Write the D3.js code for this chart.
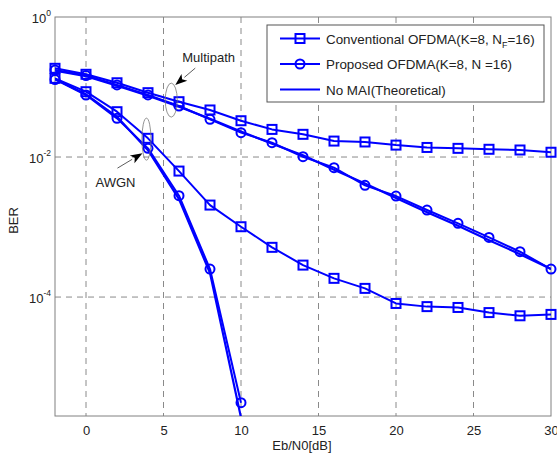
<!DOCTYPE html>
<html>
<head>
<meta charset="utf-8">
<script src="https://cdn.jsdelivr.net/npm/d3@7"></script>
<style>
  body { margin: 0; background: #fff; }
  svg text { font-family: "Liberation Sans", Arial, sans-serif; fill: #222; }
</style>
</head>
<body>
<svg class="chart" width="557" height="456"></svg>
<script>
// Eb/N0 points
var snr = [-2, 0, 2, 4, 6, 8, 10, 12, 14, 16, 18, 20, 22, 24, 26, 28, 30];
var snrAwgn = [-2, 0, 2, 4, 6, 8, 10];

// multipath
var mpConv = [0.185, 0.152, 0.115, 0.083, 0.0617, 0.047, 0.033, 0.0248, 0.0211, 0.0169, 0.0164, 0.0148, 0.0137, 0.0133, 0.0129, 0.0126, 0.0117];
var mpProp = [0.175, 0.146, 0.107, 0.077, 0.0535, 0.0345, 0.0223, 0.016, 0.0101, 0.00705, 0.00394, 0.00277, 0.00175, 0.00113, 0.00071, 0.000444, 0.000251];
var mpTheory = [0.172, 0.143, 0.104, 0.075, 0.0525, 0.0352, 0.0232, 0.0155, 0.0106, 0.0066, 0.0042, 0.0026, 0.00163, 0.00104, 0.00065, 0.00041, 0.000251];

// AWGN
var awConv = [0.133, 0.0857, 0.0444, 0.0185, 0.0063, 0.00206, 0.00101, 0.000513, 0.000286, 0.000185, 0.000133, 8.1e-5, 7.3e-5, 7.1e-5, 6.0e-5, 5.4e-5, 5.65e-5];
var awProp = [0.128, 0.0769, 0.0357, 0.0133, 0.0028, 0.000251, 3.1e-6];
var awTheory = [0.13, 0.0786, 0.0375, 0.0125, 0.0025, 0.00022, 1.9e-6];

var xTicks = [0, 5, 10, 15, 20, 25, 30];
var yTicks = [1, 1e-2, 1e-4];
var yTickExp = ["0", "-2", "-4"];

var svg = d3.select(".chart"),
    margin = { top: 17, right: 6, bottom: 40, left: 55 },
    width = +svg.attr("width") - margin.left - margin.right,
    height = +svg.attr("height") - margin.top - margin.bottom;

var x = d3.scaleLinear().domain([-2, 30]).range([0, width]),
    y = d3.scaleLog().domain([2e-6, 1]).range([height, 0]);

var blue = "#0000ff";

var g = svg.append("g")
    .attr("transform", "translate(" + margin.left + "," + margin.top + ")");

svg.append("defs").append("clipPath").attr("id", "clip")
    .append("rect").attr("width", width).attr("height", height);

// grid
g.append("g").selectAll("line")
    .data(xTicks.filter(function(d) { return d < 30; }))
    .enter().append("line")
    .attr("x1", function(d) { return x(d); })
    .attr("x2", function(d) { return x(d); })
    .attr("y1", 0).attr("y2", height)
    .attr("stroke", "#8a8a8a").attr("stroke-width", 1)
    .attr("stroke-dasharray", "6,5");

g.append("g").selectAll("line")
    .data(yTicks.filter(function(d) { return d < 1; }))
    .enter().append("line")
    .attr("x1", 0).attr("x2", width)
    .attr("y1", function(d) { return y(d); })
    .attr("y2", function(d) { return y(d); })
    .attr("stroke", "#8a8a8a").attr("stroke-width", 1)
    .attr("stroke-dasharray", "6,5");

// box
g.append("rect")
    .attr("width", width).attr("height", height)
    .attr("fill", "none").attr("stroke", "#808080").attr("stroke-width", 1);

// x axis
var xAxis = g.append("g")
    .attr("transform", "translate(0," + height + ")")
    .call(d3.axisBottom(x).tickValues(xTicks).tickSize(0).tickPadding(10));
xAxis.select(".domain").remove();
xAxis.selectAll("text").attr("font-size", "13px").attr("fill", "#222")
    .attr("font-family", "Liberation Sans, Arial, sans-serif");

g.append("text")
    .attr("x", width / 2 - 1)
    .attr("y", height + 34)
    .attr("text-anchor", "middle")
    .attr("font-size", "13px")
    .text("Eb/N0[dB]");

// y axis (10^n labels)
var yl = g.append("g").selectAll("text")
    .data(yTicks)
    .enter().append("text")
    .attr("x", -4)
    .attr("y", function(d) { return y(d) + 6; })
    .attr("text-anchor", "end")
    .attr("font-size", "13px");
yl.append("tspan").text("10");
yl.append("tspan")
    .attr("dy", -7)
    .attr("font-size", "8.5px")
    .text(function(d, i) { return yTickExp[i]; });

svg.append("text")
    .attr("transform", "translate(18," + (margin.top + height / 2 + 4) + ") rotate(-90)")
    .attr("text-anchor", "middle")
    .attr("font-size", "13px")
    .text("BER");

// lines
var line = d3.line()
    .x(function(d) { return x(d[0]); })
    .y(function(d) { return y(d[1]); });

function pairs(xs, ys) {
    return xs.map(function(v, i) { return [v, ys[i]]; });
}

var series = [
    { pts: pairs(snr, mpTheory), marker: null, w: 2.2 },
    { pts: pairs(snrAwgn, awTheory), marker: null, w: 2.2 },
    { pts: pairs(snr, mpConv), marker: "square", w: 2 },
    { pts: pairs(snr, mpProp), marker: "circle", w: 2 },
    { pts: pairs(snr, awConv), marker: "square", w: 2 },
    { pts: pairs(snrAwgn, awProp), marker: "circle", w: 2 }
];

var lines = g.append("g").attr("clip-path", "url(#clip)");

series.forEach(function(s) {
    lines.append("path")
        .datum(s.pts)
        .attr("d", line)
        .attr("fill", "none")
        .attr("stroke", blue)
        .attr("stroke-width", s.w)
        .attr("stroke-linejoin", "round");

    if (s.marker === "square") {
        g.append("g").selectAll("rect")
            .data(s.pts)
            .enter().append("rect")
            .attr("x", function(d) { return x(d[0]) - 4.5; })
            .attr("y", function(d) { return y(d[1]) - 4.5; })
            .attr("width", 9).attr("height", 9)
            .attr("fill", "none").attr("stroke", blue).attr("stroke-width", 2);
    } else if (s.marker === "circle") {
        g.append("g").selectAll("circle")
            .data(s.pts)
            .enter().append("circle")
            .attr("cx", function(d) { return x(d[0]); })
            .attr("cy", function(d) { return y(d[1]); })
            .attr("r", 4.5)
            .attr("fill", "none").attr("stroke", blue).attr("stroke-width", 2);
    }
});

// annotations
function arrow(x1, y1, x2, y2) {
    var ang = Math.atan2(y2 - y1, x2 - x1), L = 12, W = 4.5;
    var bx = x2 - L * Math.cos(ang), by = y2 - L * Math.sin(ang);
    g.append("line")
        .attr("x1", x1).attr("y1", y1).attr("x2", bx).attr("y2", by)
        .attr("stroke", "#333").attr("stroke-width", 0.8);
    var px = -Math.sin(ang) * W, py = Math.cos(ang) * W;
    g.append("path")
        .attr("d", "M" + x2 + "," + y2 + "L" + (bx + px) + "," + (by + py) +
            "L" + (bx + 3 * Math.cos(ang)) + "," + (by + 3 * Math.sin(ang)) +
            "L" + (bx - px) + "," + (by - py) + "Z")
        .attr("fill", "#000");
}

var mpX = x(5.5), mpY = y(0.065);
g.append("ellipse").attr("cx", mpX).attr("cy", mpY).attr("rx", 6).attr("ry", 17)
    .attr("fill", "none").attr("stroke", "#777").attr("stroke-width", 0.8);
arrow(mpX + 24, mpY - 32, mpX + 4, mpY - 15);
g.append("text").attr("x", mpX + 11).attr("y", mpY - 38)
    .attr("font-size", "13px").text("Multipath");

var awX = x(3.9), awY = y(0.018);
g.append("ellipse").attr("cx", awX).attr("cy", awY).attr("rx", 4.5).attr("ry", 21)
    .attr("fill", "none").attr("stroke", "#777").attr("stroke-width", 0.8);
arrow(awX - 29, awY + 29, awX - 4, awY + 14);
g.append("text").attr("x", awX - 51).attr("y", awY + 48)
    .attr("font-size", "13px").text("AWGN");

// legend
var lg = svg.append("g").attr("transform", "translate(267,25)");
lg.append("rect").attr("width", 277).attr("height", 77)
    .attr("fill", "#fff").attr("stroke", "#555").attr("stroke-width", 1);

var legItems = [
    { marker: "square" },
    { marker: "circle" },
    { marker: null }
];
legItems.forEach(function(d, i) {
    var cy = 13.5 + i * 25.5;
    lg.append("line").attr("x1", 13).attr("x2", 53).attr("y1", cy).attr("y2", cy)
        .attr("stroke", blue).attr("stroke-width", 2.2);
    if (d.marker === "square") {
        lg.append("rect").attr("x", 28.5).attr("y", cy - 4.5).attr("width", 9).attr("height", 9)
            .attr("fill", "none").attr("stroke", blue).attr("stroke-width", 2);
    } else if (d.marker === "circle") {
        lg.append("circle").attr("cx", 33).attr("cy", cy).attr("r", 4.5)
            .attr("fill", "none").attr("stroke", blue).attr("stroke-width", 2);
    }
});
var t1 = lg.append("text").attr("x", 59).attr("y", 18.5).attr("font-size", "13.4px");
t1.append("tspan").text("Conventional OFDMA(K=8, N");
t1.append("tspan").attr("dy", 4).attr("font-size", "9px").text("F");
t1.append("tspan").attr("dy", -4).text("=16)");
lg.append("text").attr("x", 59).attr("y", 44).attr("font-size", "13.4px")
    .text("Proposed OFDMA(K=8, N =16)");
lg.append("text").attr("x", 59).attr("y", 69.5).attr("font-size", "13.4px")
    .text("No MAI(Theoretical)");
</script>
</body>
</html>
